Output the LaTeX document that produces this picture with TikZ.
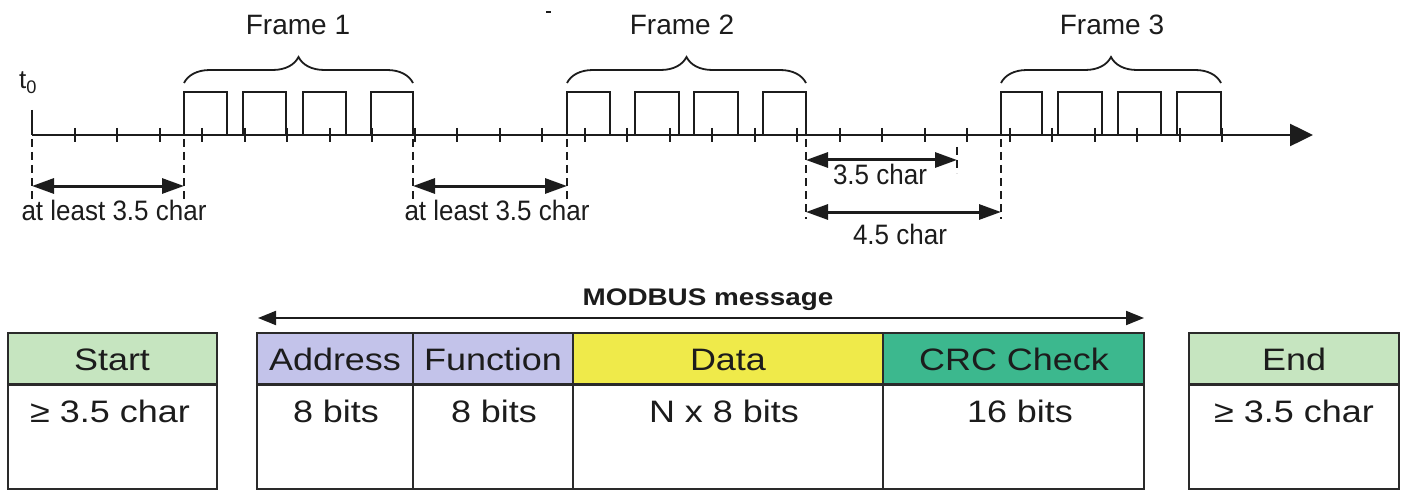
\documentclass[tikz,border=0pt]{standalone}
\usepackage{fontspec}
\setmainfont{Liberation Sans}
\usepackage{graphicx}
\usetikzlibrary{arrows.meta,decorations.pathreplacing}

\definecolor{inkc}{HTML}{1C1C1C}
\definecolor{rulec}{HTML}{2A2A2A}
\definecolor{startgreen}{HTML}{C6E5C0}
\definecolor{lavender}{HTML}{C3C3EA}
\definecolor{datayellow}{HTML}{EFEA4A}
\definecolor{crcteal}{HTML}{3CB88E}

\newcommand{\stretchx}[1]{\scalebox{1.16}[1]{#1}}
\newcommand{\stretchy}[1]{\scalebox{1}[1.08]{#1}}

\begin{document}
\begin{tikzpicture}[x=1pt,y=-1pt,
  axisline/.style={line width=2.5pt, draw=inkc, -{Triangle[length=23pt,width=22pt]}},
  tickline/.style={line width=2pt, draw=inkc},
  pulseline/.style={line width=2pt, draw=inkc},
  framebrace/.style={line width=1.8pt, draw=inkc, decorate,
    decoration={brace, amplitude=26pt}},
  guide/.style={line width=1.8pt, draw=inkc, dash pattern=on 8pt off 5pt},
  dimarrow/.style={line width=3pt, draw=inkc,
    {Triangle[length=22pt,width=15pt]}-{Triangle[length=22pt,width=15pt]}},
  msgarrow/.style={line width=2pt, draw=inkc,
    {Triangle[length=18pt,width=14pt]}-{Triangle[length=18pt,width=14pt]}},
  lbl/.style={font=\fontsize{26}{30}\selectfont, text=inkc, inner sep=0pt, anchor=base},
  framelbl/.style={font=\fontsize{28}{32}\selectfont, text=inkc, inner sep=0pt, anchor=base},
  celltext/.style={font=\fontsize{31}{36}\selectfont, text=inkc, inner sep=0pt, anchor=base},
  cellbox/.style={line width=2pt, draw=rulec},
  headrule/.style={line width=3pt, draw=rulec},
]
\useasboundingbox (0,0) rectangle (1403,492);

% ---------------- time axis ----------------
\coordinate (t0) at (32,135);
\coordinate (tend) at (1313,135);
\coordinate (t0top) at (32,110);
\draw[axisline] (t0) -- (tend);
\draw[tickline] (t0top) -- (t0);
\node[font=\fontsize{26}{28}\selectfont, text=inkc, inner sep=0pt, anchor=base] (tzero) at (28,89) {t\textsubscript{0}};
\foreach \k in {1,...,28}
  \draw[tickline] ({32+42.5*\k},128) -- ({32+42.5*\k},142);

% character pulses of the three frames
\foreach \a/\b in {184/227, 243/286, 303/346, 371/413,
                   567/610, 635/679, 694/738, 763/806,
                   1001/1042, 1058/1102, 1118/1161, 1177/1221}
  \draw[pulseline] (\a,135) -- (\a,92) -- (\b,92) -- (\b,135);

% braces and frame names
\coordinate (b1a) at (184,83); \coordinate (b1b) at (413,83);
\coordinate (b2a) at (567,83); \coordinate (b2b) at (806,83);
\coordinate (b3a) at (1001,83); \coordinate (b3b) at (1221,83);
\draw[framebrace] (b1a) -- (b1b);
\draw[framebrace] (b2a) -- (b2b);
\draw[framebrace] (b3a) -- (b3b);
\node[framelbl] (fr1) at (298,35) {Frame 1};
\node[framelbl] (fr2) at (682,35) {Frame 2};
\node[framelbl] (fr3) at (1112,35) {Frame 3};
\draw[line width=1.5pt, draw=inkc] (546,12) -- (551,12);

% dashed guide lines below the axis
\coordinate (g1a) at (32,139);   \coordinate (g1b) at (32,202);
\coordinate (g2a) at (184,139);  \coordinate (g2b) at (184,202);
\coordinate (g3a) at (413,139);  \coordinate (g3b) at (413,203);
\coordinate (g4a) at (567,139);  \coordinate (g4b) at (567,203);
\coordinate (g5a) at (806,139);  \coordinate (g5b) at (806,219);
\coordinate (g6a) at (957,147);  \coordinate (g6b) at (957,173);
\coordinate (g7a) at (1001,139); \coordinate (g7b) at (1001,219);
\foreach \g in {1,...,7} \draw[guide] (g\g a) -- (g\g b);

% silent intervals
\coordinate (d1a) at (32,186);  \coordinate (d1b) at (184,186);
\coordinate (d2a) at (413,186); \coordinate (d2b) at (567,186);
\coordinate (d3a) at (806,160); \coordinate (d3b) at (957,160);
\coordinate (d4a) at (806,212); \coordinate (d4b) at (1001,212);
\draw[dimarrow] (d1a) -- (d1b);
\draw[dimarrow] (d2a) -- (d2b);
\draw[dimarrow] (d3a) -- (d3b);
\draw[dimarrow] (d4a) -- (d4b);
\node[lbl] (gap1) at (114,220) {\stretchy{at least 3.5 char}};
\node[lbl] (gap2) at (497,220) {\stretchy{at least 3.5 char}};
\node[lbl] (gap3) at (880,185) {\stretchy{3.5 char}};
\node[lbl] (gap4) at (900,244) {\stretchy{4.5 char}};

% ---------------- message layout ----------------
\coordinate (ma) at (258,318); \coordinate (mb) at (1144,318);
\draw[msgarrow] (ma) -- (mb);
\node[font=\fontsize{24}{28}\selectfont\bfseries, text=inkc, inner sep=0pt, anchor=base]
  (msg) at (708,305) {\stretchx{MODBUS message}};

% header fills
\fill[startgreen] (8,333) rectangle (217,384);
\fill[lavender]   (257,333) rectangle (573,384);
\fill[datayellow] (573,333) rectangle (883,384);
\fill[crcteal]    (883,333) rectangle (1144,384);
\fill[startgreen] (1189,333) rectangle (1399,384);

% outlines and column rules
\draw[cellbox] (8,333) rectangle (217,489);
\draw[cellbox] (257,333) rectangle (1144,489);
\draw[cellbox] (1189,333) rectangle (1399,489);
\foreach \x in {413,573,883} \draw[cellbox] (\x,333) -- (\x,489);
\draw[headrule] (8,384) -- (217,384);
\draw[headrule] (257,384) -- (1144,384);
\draw[headrule] (1189,384) -- (1399,384);

% field names
\node[celltext] (hStart) at (112,370) {\stretchx{Start}};
\node[celltext] (hAddr)  at (335,370) {\stretchx{Address}};
\node[celltext] (hFunc)  at (493,370) {\stretchx{Function}};
\node[celltext] (hData)  at (728,370) {\stretchx{Data}};
\node[celltext] (hCrc)   at (1014,370) {\stretchx{CRC Check}};
\node[celltext] (hEnd)   at (1294,370) {\stretchx{End}};

% field sizes
\node[celltext] (vStart) at (110,422) {\stretchx{≥ 3.5 char}};
\node[celltext] (vAddr)  at (336,422) {\stretchx{8 bits}};
\node[celltext] (vFunc)  at (494,422) {\stretchx{8 bits}};
\node[celltext] (vData)  at (724,422) {\stretchx{N x 8 bits}};
\node[celltext] (vCrc)   at (1020,422) {\stretchx{16 bits}};
\node[celltext] (vEnd)   at (1294,422) {\stretchx{≥ 3.5 char}};
\end{tikzpicture}
\end{document}
